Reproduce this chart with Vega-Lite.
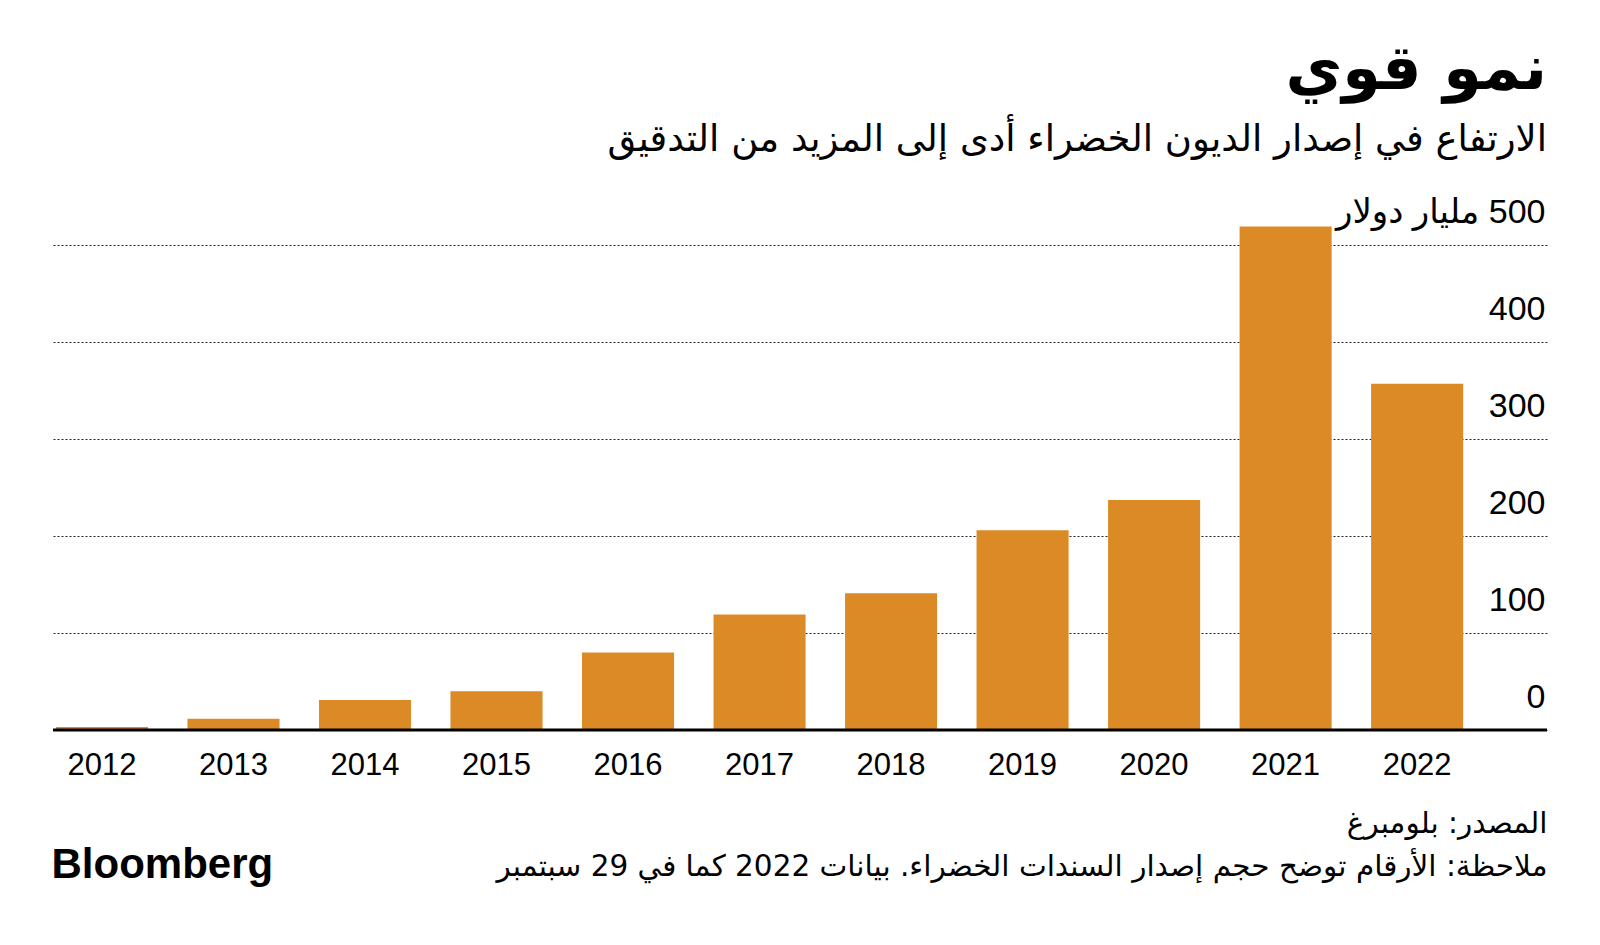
{
  "$schema": "https://vega.github.io/schema/vega-lite/v6.json",
  "width": 1494,
  "height": 485,
  "autosize": {"type": "none"},
  "padding": {"left": 53, "top": 245, "right": 53, "bottom": 215},
  "background": "white",
  "config": {"view": {"stroke": null}},
  "title": {
    "text": "نمو قوي",
    "subtitle": "الارتفاع في إصدار الديون الخضراء أدى إلى المزيد من التدقيق",
    "anchor": "end",
    "frame": "group",
    "orient": "top",
    "font": "DejaVu Sans",
    "fontSize": 62,
    "fontWeight": "bold",
    "color": "#000000",
    "subtitleFont": "DejaVu Sans",
    "subtitleFontSize": 37,
    "subtitleColor": "#000000",
    "subtitlePadding": 20,
    "offset": 36
  },
  "data": {
    "values": [
      {"year": "2012", "value": 3},
      {"year": "2013", "value": 11.5},
      {"year": "2014", "value": 31},
      {"year": "2015", "value": 40},
      {"year": "2016", "value": 80},
      {"year": "2017", "value": 119},
      {"year": "2018", "value": 141},
      {"year": "2019", "value": 206},
      {"year": "2020", "value": 237},
      {"year": "2021", "value": 519},
      {"year": "2022", "value": 357}
    ]
  },
  "layer": [
    {
      "mark": {"type": "bar", "color": "#dc8a26"},
      "encoding": {
        "x": {
          "field": "year",
          "type": "ordinal",
          "scale": {"paddingInner": 0.3, "paddingOuter": 0.33, "align": 0.034},
          "axis": {
            "domain": false,
            "ticks": false,
            "tickSize": 0,
            "labelAngle": 0,
            "labelFont": "Liberation Sans",
            "labelFontSize": 31,
            "labelColor": "#000000",
            "labelPadding": 20,
            "title": ["المصدر: بلومبرغ", "ملاحظة: الأرقام توضح حجم إصدار السندات الخضراء. بيانات 2022 كما في 29 سبتمبر"],
            "titleFont": "DejaVu Sans",
            "titleFontSize": 29.5,
            "titleFontWeight": "normal",
            "titleColor": "#000000",
            "titleAnchor": "end",
            "titleAlign": "right",
            "titleLineHeight": 43,
            "titlePadding": 29,
            "titleLimit": 0
          }
        },
        "y": {
          "field": "value",
          "type": "quantitative",
          "scale": {"domain": [0, 500], "nice": false},
          "axis": {
            "orient": "right",
            "values": [0, 100, 200, 300, 400, 500],
            "domain": false,
            "ticks": false,
            "tickSize": 0,
            "grid": true,
            "gridDash": [2, 2],
            "gridColor": "#222222",
            "gridWidth": 1,
            "labelAlign": "right",
            "labelBaseline": "alphabetic",
            "labelPadding": -2,
            "labelOffset": -23,
            "labelOverlap": false,
            "labelLimit": 0,
            "labelFont": "Liberation Sans, DejaVu Sans",
            "labelFontSize": 34,
            "labelColor": "#000000",
            "labelExpr": "datum.value == 500 ? 'مليار دولار \u200e500' : datum.label",
            "title": null
          }
        }
      }
    },
    {
      "data": {"values": [{}]},
      "mark": {"type": "rule", "color": "#000000", "strokeWidth": 3},
      "encoding": {
        "y": {
          "datum": 0,
          "type": "quantitative",
          "axis": {
            "orient": "left",
            "domain": false,
            "ticks": false,
            "labels": false,
            "grid": false,
            "title": "Bloomberg",
            "titleAngle": 0,
            "titleAlign": "left",
            "titleBaseline": "alphabetic",
            "titleX": -2,
            "titleY": 632,
            "titleFont": "Liberation Sans",
            "titleFontSize": 42,
            "titleFontWeight": "bold",
            "titleColor": "#000000"
          }
        }
      }
    }
  ],
  "resolve": {"axis": {"y": "independent"}}
}
